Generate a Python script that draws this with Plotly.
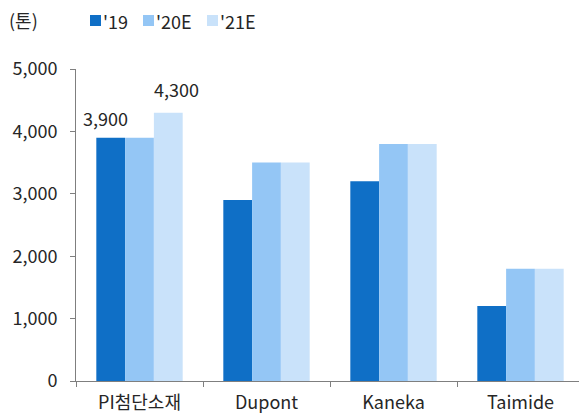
import plotly.graph_objects as go

categories = ["PI첨단소재", "Dupont", "Kaneka", "Taimide"]
series_names = ["'19", "'20E", "'21E"]
v19 = [3900, 2900, 3200, 1200]
v20 = [3900, 3500, 3800, 1800]
v21 = [4300, 3500, 3800, 1800]
colors = ["#0F6FC6", "#94C6F5", "#C9E2FA"]
y_ticks = [0, 1000, 2000, 3000, 4000, 5000]
y_ticklabels = ["0", "1,000", "2,000", "3,000", "4,000", "5,000"]
unit_label = "(톤)"

# page body has an 8px margin; compensate
OFF = 8
W, H = 587 - OFF, 416 - OFF
L, R, T, B = 76 - OFF, 584 - OFF, 69 - OFF, 381 - OFF
FONT = "Noto Sans CJK KR"
FS = 18
TXT = "#262626"

def px(x):
    return (x - OFF - L) / (R - L)

def py(y):
    return (B - (y - OFF)) / (B - T)

fig = go.Figure()
for name, vals, c in zip(series_names, [v19, v20, v21], colors):
    fig.add_trace(go.Bar(x=categories, y=vals, name=name, marker_color=c,
                         marker_line_width=0, showlegend=False))

# data labels
fig.add_annotation(x=categories[0], y=v19[0], text=f"{v19[0]:,}", showarrow=False,
                   xref="x", yref="y", xshift=-34, yshift=5, yanchor="bottom",
                   font=dict(family=FONT, size=FS, color=TXT))
fig.add_annotation(x=categories[0], y=v21[0], text=f"{v21[0]:,}", showarrow=False,
                   xref="x", yref="y", xshift=37, yshift=9, yanchor="bottom",
                   font=dict(family=FONT, size=FS, color=TXT))

# unit label
fig.add_annotation(x=px(7), y=py(20), xref="paper", yref="paper", text=unit_label,
                   showarrow=False, xanchor="left", yanchor="middle",
                   font=dict(family=FONT, size=FS, color=TXT))

# custom legend
leg_sq = [90, 143, 207]
for name, c, sx in zip(series_names, colors, leg_sq):
    fig.add_shape(type="rect", xref="paper", yref="paper",
                  x0=px(sx), x1=px(sx + 11), y0=py(26), y1=py(15),
                  fillcolor=c, line_width=0)
    fig.add_annotation(x=px(sx + 11), y=py(20.5), xref="paper", yref="paper",
                       text=name, showarrow=False, xanchor="left", yanchor="middle",
                       font=dict(family=FONT, size=FS, color=TXT))

fig.update_layout(
    width=W, height=H,
    margin=dict(l=L, r=W - R, t=T, b=H - B),
    paper_bgcolor="white", plot_bgcolor="white",
    barmode="group", bargap=0.32, bargroupgap=0,
    font=dict(family=FONT, size=FS, color=TXT),
    showlegend=False,
)
fig.update_xaxes(showline=True, linecolor="#7f7f7f", linewidth=1,
                 ticks="outside", tickson="boundaries", ticklen=5, tickcolor="#7f7f7f",
                 ticklabelstandoff=5,
                 showgrid=False, tickfont=dict(family=FONT, size=FS, color=TXT))
fig.update_yaxes(range=[0, 5000], tickvals=y_ticks, ticktext=y_ticklabels,
                 showline=True, linecolor="#7f7f7f", linewidth=1,
                 ticks="outside", ticklen=5, tickcolor="#7f7f7f",
                 ticklabelstandoff=9,
                 showgrid=False, zeroline=False,
                 tickfont=dict(family=FONT, size=FS, color=TXT))

fig.write_html("out.html")
